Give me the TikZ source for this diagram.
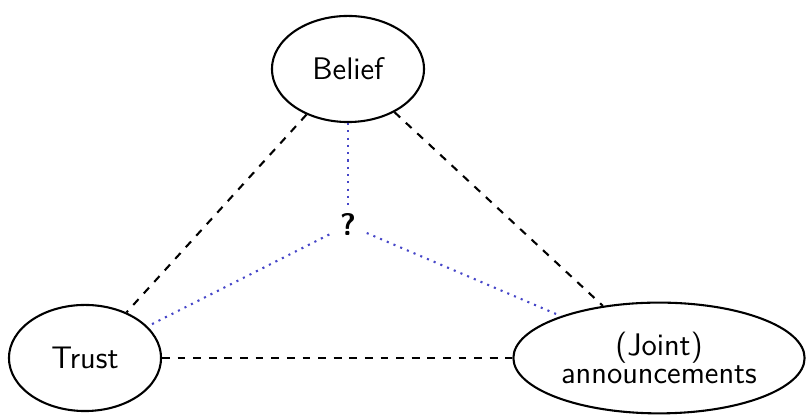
\documentclass[tikz,border=0pt]{standalone}
\usetikzlibrary{shapes.geometric}
\definecolor{dotblue}{RGB}{70,70,200}
\begin{document}
\begin{tikzpicture}[x=0.3846pt,y=-0.3846pt,
  every node/.style={font=\sffamily\large},
  ell/.style={draw,ellipse,thick,inner sep=0pt},
  dashline/.style={thick,dashed},
  dotline/.style={dotted,dotblue,thick}]
\useasboundingbox (0,0) rectangle (806,416);
\node[ell,minimum width=58.5pt,minimum height=40.8pt] (belief) at (348,69) {Belief};
\node[ell,minimum width=58.5pt,minimum height=40.8pt] (trust) at (85,358) {Trust};
\node[ell,minimum width=112pt,minimum height=42.6pt,align=center] (joint) at (659,358) {(Joint)\\[-3pt]announcements};
\node[font=\sffamily\large\bfseries,inner sep=3pt,minimum width=14pt,minimum height=12pt] (q) at (348,225) {?};
\draw[dashline] (belief) -- (trust);
\draw[dashline] (belief) -- (joint);
\draw[dashline] (trust) -- (joint);
\draw[dotline] (belief) -- (q);
\draw[dotline] (q) -- (trust);
\draw[dotline] (q) -- (joint);
\end{tikzpicture}
\end{document}
